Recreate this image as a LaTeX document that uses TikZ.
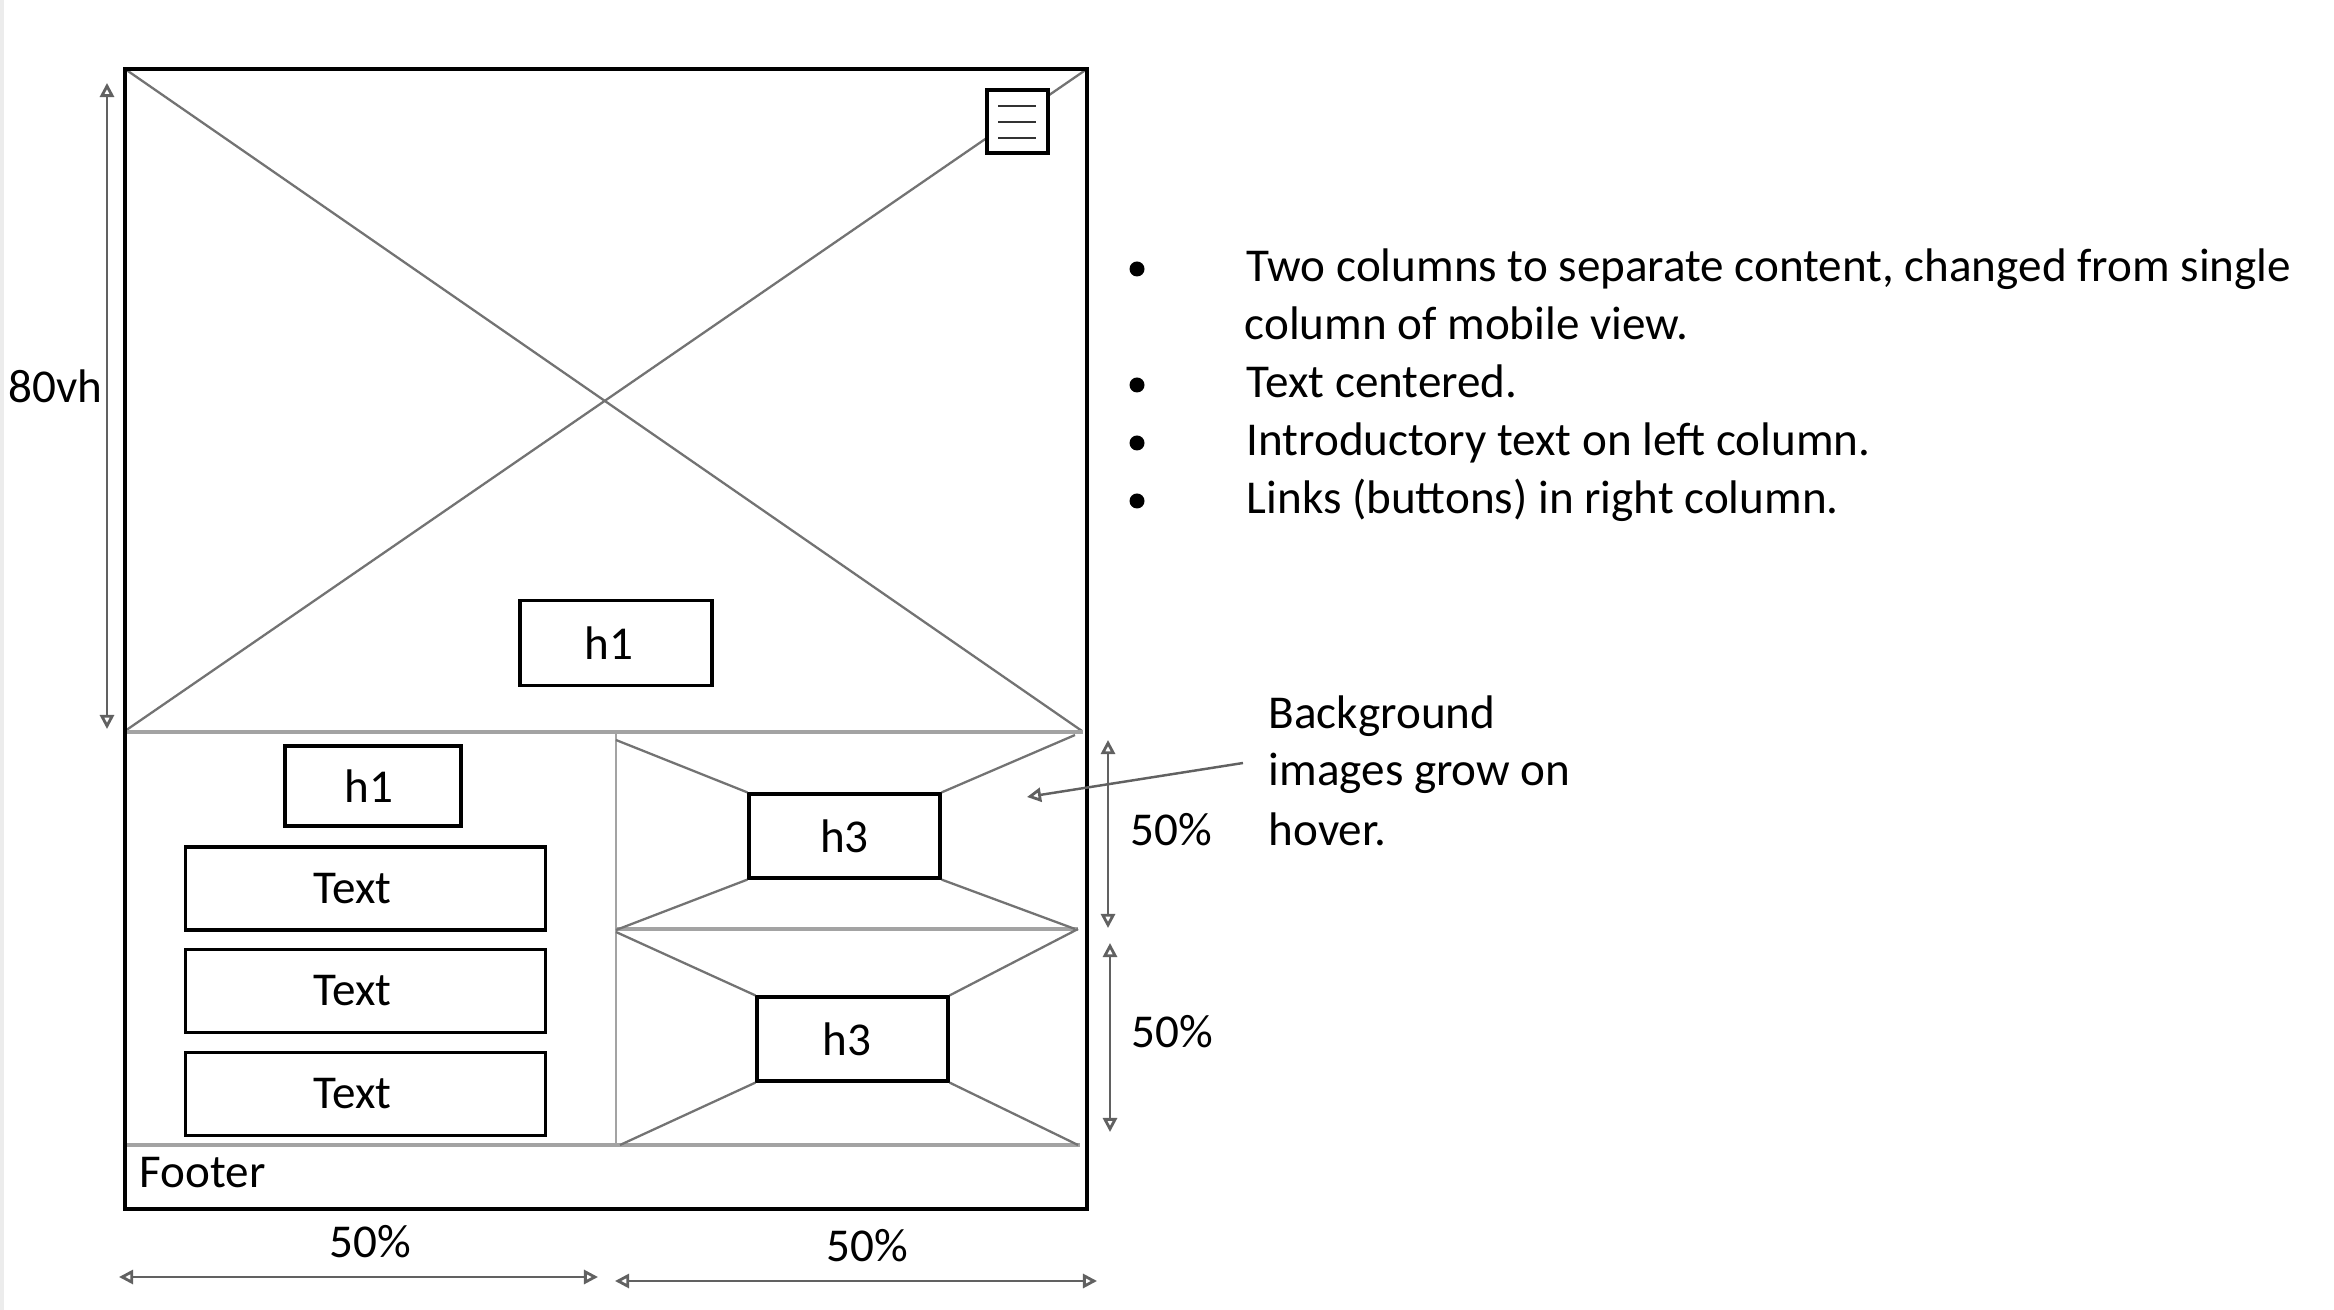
\documentclass[tikz,border=0pt]{standalone}
\usepackage{fontspec}
\setmainfont{Carlito}
\usetikzlibrary{arrows.meta,positioning}
\definecolor{wiregray}{gray}{0.45}
\definecolor{rulegray}{gray}{0.64}
\definecolor{dimgray}{gray}{0.38}
\tikzset{
  box/.style={draw, fill=white, line width=0.9pt, inner sep=0pt},
  wire/.style={wiregray, line width=0.65pt},
  rule/.style={rulegray, line width=1pt},
  dim/.style={dimgray, line width=0.7pt},
  lbl/.style={inner sep=0pt},
  dot/.style={circle, fill, inner sep=0pt, minimum size=0.15cm},
}
\begin{document}
\begin{tikzpicture}[x=0.01cm, y=-0.01cm,
  >={Triangle[open,length=4pt,width=4pt,line width=0.8pt]},
  every node/.style={font=\fontsize{13.4}{16}\selectfont}]
\useasboundingbox (0,0) rectangle (2334,1310);
\draw[gray!15, line width=0.03cm] (2,0) -- (2,1310);

% frame and hero image
\coordinate (fnw) at (125,69);
\coordinate (fse) at (1087,1209);
\draw[wire] (fnw) -- (1082,731);
\draw[wire] (125,731) -- (1087,69);
\draw[rule] (125,732) -- (1083,732);
\draw[rule] (125,1145) -- (1080,1145);
\draw[rule, line width=0.6pt] (616,732) -- (616,1145);
\draw[rule] (616,929) -- (1078,929);
\draw[line width=0.95pt] (fnw) rectangle (fse);

\node[box, minimum width=0.61cm, minimum height=0.63cm] (menu) at (1017.5,121.5) {};
\foreach \y in {106,122,138}
  \draw[line width=0.6pt, black!80] (998,\y) -- (1036,\y);
\node[box, minimum width=1.92cm, minimum height=0.85cm] (heroh1) at (616,643) {h1\kern0.14cm};

% left column
\node[box, minimum width=1.76cm, minimum height=0.80cm] (introh1) at (373,786) {h1\kern0.08cm};
\foreach \n/\y in {1/888.5,2/991,3/1094}
  \node[box, minimum width=3.59cm, minimum height=0.83cm] (text\n) at (365.5,\y) {Text\kern0.26cm};

% right column
\coordinate (pa-nw) at (616,740);
\coordinate (pa-ne) at (1075,735);
\coordinate (pa-sw) at (616,930);
\coordinate (pa-se) at (1075,929);
\coordinate (pb-nw) at (616,932);
\coordinate (pb-ne) at (1078,929);
\coordinate (pb-sw) at (620,1145);
\coordinate (pb-se) at (1078,1145);
\node[box, minimum width=1.91cm, minimum height=0.84cm] (h3a) at (844.5,836) {h3};
\node[box, minimum width=1.91cm, minimum height=0.84cm] (h3b) at (852.5,1039) {h3\kern0.11cm};
\foreach \p/\c in {nw/north west,ne/north east,sw/south west,se/south east} {
  \draw[wire] (pa-\p) -- (h3a.\c);
  \draw[wire] (pb-\p) -- (h3b.\c);
}

\node[lbl, anchor=base west] (footer) at (139,1187) {Footer};

% dimensions
\coordinate (vh-t) at (107,83);
\coordinate (vh-b) at (107,729);
\draw[dim, <->] (vh-t) -- (vh-b);
\node[lbl, anchor=east] (vh) at (103,386) {80vh};

\coordinate (ra-t) at (1108,740);
\coordinate (ra-b) at (1108,928);
\coordinate (rb-t) at (1110,943);
\coordinate (rb-b) at (1110,1132);
\draw[dim, <->] (ra-t) -- (ra-b);
\draw[dim, <->] (rb-t) -- (rb-b);
\node[lbl, anchor=base west] (pcta) at (1130,846) {50\%};
\node[lbl, anchor=base west] (pctb) at (1131,1047) {50\%};

\coordinate (wa-l) at (119,1277);
\coordinate (wa-r) at (598,1277);
\coordinate (wb-l) at (615,1281);
\coordinate (wb-r) at (1097,1281);
\draw[dim, <->] (wa-l) -- (wa-r);
\draw[dim, <->] (wb-l) -- (wb-r);
\node[lbl, anchor=base west] (pctc) at (329,1257) {50\%};
\node[lbl, anchor=base west] (pctd) at (826,1261) {50\%};

% notes
\foreach \n/\y in {1/269,2/385,3/443,4/501}
  \node[dot] (dot\n) at (1137,\y) {};
\node[lbl, anchor=base west] (note1) at (1246,282) {Two columns to separate content, changed from single};
\node[lbl, anchor=base west] (note1b) at (1244,340) {column of mobile view.};
\node[lbl, anchor=base west] (note2) at (1246,398) {Text centered.};
\node[lbl, anchor=base west] (note3) at (1246,456) {Introductory text on left column.};
\node[lbl, anchor=base west] (note4) at (1246,514) {Links (buttons) in right column.};

\node[lbl, anchor=base west] (hover1) at (1268,729) {Background};
\node[lbl, anchor=base west] (hover2) at (1268,786) {images grow on};
\node[lbl, anchor=base west] (hover3) at (1268,846) {hover.};
\coordinate (hover-tip) at (1027,797);
\draw[dim, ->] (1243,763) -- (hover-tip);

\end{tikzpicture}
\end{document}
